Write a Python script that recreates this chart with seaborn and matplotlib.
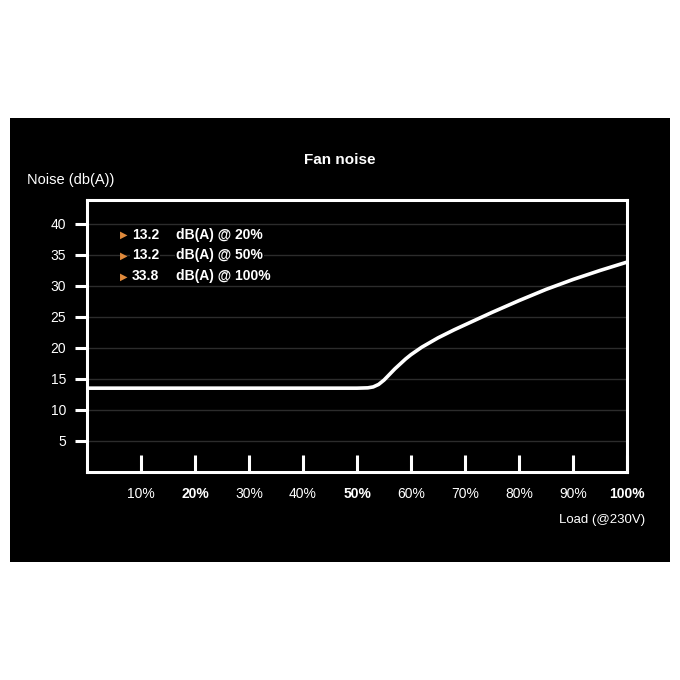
import numpy as np
import pandas as pd
import matplotlib
matplotlib.use('Agg')
import matplotlib.pyplot as plt
from matplotlib.patches import Rectangle
import seaborn as sns

# 데이터
load_pct = [0, 10, 20, 30, 40, 50, 52, 53, 54, 55, 56, 57, 58, 59, 60, 62, 65, 68, 70, 75, 80, 85, 90, 95, 100]
noise_db = [13.5, 13.5, 13.5, 13.5, 13.5, 13.5, 13.55, 13.7, 14.1, 14.8, 15.7, 16.6, 17.4, 18.2, 18.9, 20.1, 21.6, 22.9, 23.7, 25.7, 27.6, 29.4, 31.0, 32.45, 33.8]

x_ticks = [10, 20, 30, 40, 50, 60, 70, 80, 90, 100]
x_bold = [20, 50, 100]
y_ticks = [5, 10, 15, 20, 25, 30, 35, 40]

spec_values = ['13.2', '13.2', '33.8']
spec_loads = ['20%', '50%', '100%']

sns.set_theme(style='dark')
plt.rcParams['font.family'] = ['Liberation Sans', 'DejaVu Sans']

df = pd.DataFrame({'load': load_pct, 'noise': noise_db})

fig = plt.figure(figsize=(6.8, 6.8), dpi=100)
fig.patch.set_facecolor('white')
# 검은 패널
fig.patches.append(Rectangle((10 / 680, 1 - 562 / 680), 660 / 680, 444 / 680,
                             transform=fig.transFigure, facecolor='black',
                             edgecolor='none', zorder=-10))

ax = fig.add_axes([87 / 680, 1 - 472 / 680, 540 / 680, 272 / 680])
ax.set_zorder(5)
ax.set_facecolor('black')

# 그리드
for yv in y_ticks:
    ax.axhline(yv, color='#2c2c2c', linewidth=1.0, zorder=1)

sns.lineplot(data=df, x='load', y='noise', ax=ax, color='white', linewidth=2.6, zorder=3)

ax.set_xlim(0, 100)
ax.set_ylim(0, 43.8)
ax.set_xlabel('')
ax.set_ylabel('')
ax.grid(False)

for sp in ax.spines.values():
    sp.set_color('white')
    sp.set_linewidth(2.2)
    sp.set_visible(True)

ax.set_yticks(y_ticks)
ax.set_yticklabels([str(v) for v in y_ticks])
ax.tick_params(axis='y', direction='out', length=9, width=2.2, color='white',
               labelcolor='white', labelsize=10, pad=6, left=True)

ax.set_xticks(x_ticks)
ax.set_xticklabels([f'{v}%' for v in x_ticks])
ax.tick_params(axis='x', direction='in', length=12, width=2.2, color='white',
               labelcolor='white', labelsize=10, pad=11, bottom=True)
for lbl, v in zip(ax.get_xticklabels(), x_ticks):
    if v in x_bold:
        lbl.set_fontweight('bold')

# 범례 텍스트
row_y = [0.873, 0.796, 0.719]
for yy, val, ld in zip(row_y, spec_values, spec_loads):
    ax.text(0.061, yy, '\u25B6', transform=ax.transAxes, color='#e08a3c',
            fontsize=7, va='center', ha='left', family=['DejaVu Sans'], zorder=4)
    ax.text(0.083, yy, val, transform=ax.transAxes, color='white', fontsize=10,
            fontweight='bold', va='center', ha='left', zorder=4,
            bbox=dict(facecolor='black', edgecolor='none', pad=1))
    ax.text(0.165, yy, f'dB(A) @ {ld}', transform=ax.transAxes, color='white',
            fontsize=10, fontweight='bold', va='center', ha='left', zorder=4,
            bbox=dict(facecolor='black', edgecolor='none', pad=1))

fig.text(340 / 680, 1 - 160 / 680, 'Fan noise', color='white', fontsize=11,
         fontweight='bold', ha='center', va='center')
fig.text(27 / 680, 1 - 180 / 680, 'Noise (db(A))', color='white', fontsize=10.5,
         ha='left', va='center')
fig.text(645 / 680, 1 - 520 / 680, 'Load (@230V)', color='white', fontsize=9.5,
         ha='right', va='center')

fig.savefig('out.png', dpi=100, facecolor='white')
